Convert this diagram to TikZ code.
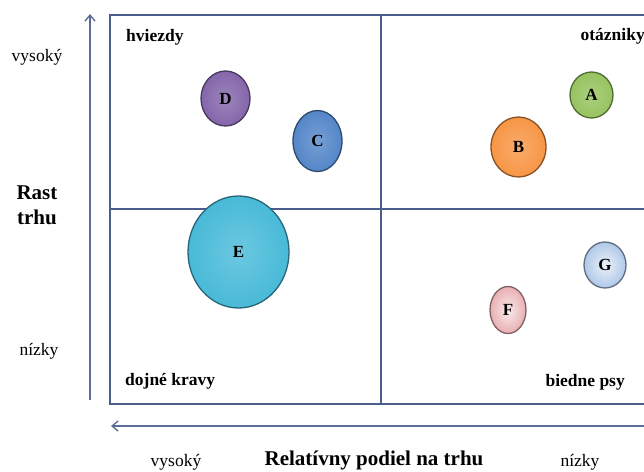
\documentclass[tikz,border=0pt]{standalone}
\usepackage{fontspec}
\setmainfont{Liberation Serif}
\usetikzlibrary{shapes.geometric, arrows.meta, positioning}
\definecolor{frameblue}{RGB}{74,94,140}
\definecolor{axisblue}{RGB}{92,108,148}
\definecolor{purpleD}{RGB}{132,102,170}
\definecolor{blueC}{RGB}{84,134,200}
\definecolor{greenA}{RGB}{150,195,95}
\definecolor{orangeB}{RGB}{247,150,70}
\definecolor{cyanE}{RGB}{72,186,216}
\definecolor{paleG}{RGB}{175,200,232}
\definecolor{pinkF}{RGB}{232,175,178}

\begin{document}
\begin{tikzpicture}[x=1pt, y=-1pt, >={Straight Barb[length=6pt,width=10pt]},
  quad/.style={font=\fontsize{17.5}{20}\selectfont\bfseries, inner sep=0pt},
  level/.style={font=\fontsize{17.5}{20}\selectfont, inner sep=0pt},
  title/.style={font=\fontsize{21}{25}\selectfont\bfseries, align=center, inner sep=0pt},
  bubble/.style={ellipse, draw=#1!55!black, line width=1.3pt, inner sep=0pt,
                 inner color=#1!80!white, outer color=#1,
                 font=\fontsize{17}{20}\selectfont\bfseries},
  palebubble/.style={bubble=#1, inner color=#1!25!white},
  frame/.style={draw=frameblue, line width=2pt},
  axis/.style={->, draw=axisblue, line width=1.4pt},
]
\clip (0,0) rectangle (644,471);

% Matrix frame
\draw[frame] (650,15) -- (110,15) -- (110,404) -- (650,404);
\draw[frame] (381,15) -- (381,404);
\draw[frame] (110,209) -- (650,209);

% Axes
\coordinate (ybot) at (90,400);
\coordinate (ytop) at (90,14);
\coordinate (xright) at (650,426);
\coordinate (xleft) at (111,426);
\draw[axis] (ybot) -- (ytop);
\draw[axis] (xright) -- (xleft);

% Quadrant labels
\node[quad, anchor=west] (stars) at (126,37) {hviezdy};
\node[quad, anchor=east] (quest) at (645,36) {otázniky};
\node[quad, anchor=west] (cows) at (125,381) {dojné kravy};
\node[quad, anchor=east] (dogs) at (625,382) {biedne psy};

% Vertical axis labels
\node[level] (yhigh) at (37,57) {vysoký};
\node[title] (ytitle) at (37,205) {Rast\\trhu};
\node[level] (ylow) at (39,351) {nízky};

% Horizontal axis labels
\node[level] (xhigh) at (176,462) {vysoký};
\node[title] (xtitle) at (374,460) {Relatívny podiel na trhu};
\node[level] (xlow) at (580,462) {nízky};

% Bubbles
\node[bubble=purpleD, minimum width=49pt, minimum height=55pt] (D) at (225.5,98.5) {D};
\node[bubble=blueC, minimum width=49pt, minimum height=61pt] (C) at (317.5,141) {C};
\node[bubble=greenA, minimum width=43pt, minimum height=46pt] (A) at (591.5,95) {A};
\node[bubble=orangeB, minimum width=55pt, minimum height=60pt] (B) at (518.5,147) {B};
\node[bubble=cyanE, minimum width=101pt, minimum height=112pt] (E) at (238.5,252) {E};
\node[palebubble=paleG, minimum width=42pt, minimum height=46pt] (G) at (605,265) {G};
\node[palebubble=pinkF, minimum width=36pt, minimum height=47pt] (F) at (508,310) {F};

\end{tikzpicture}
\end{document}
